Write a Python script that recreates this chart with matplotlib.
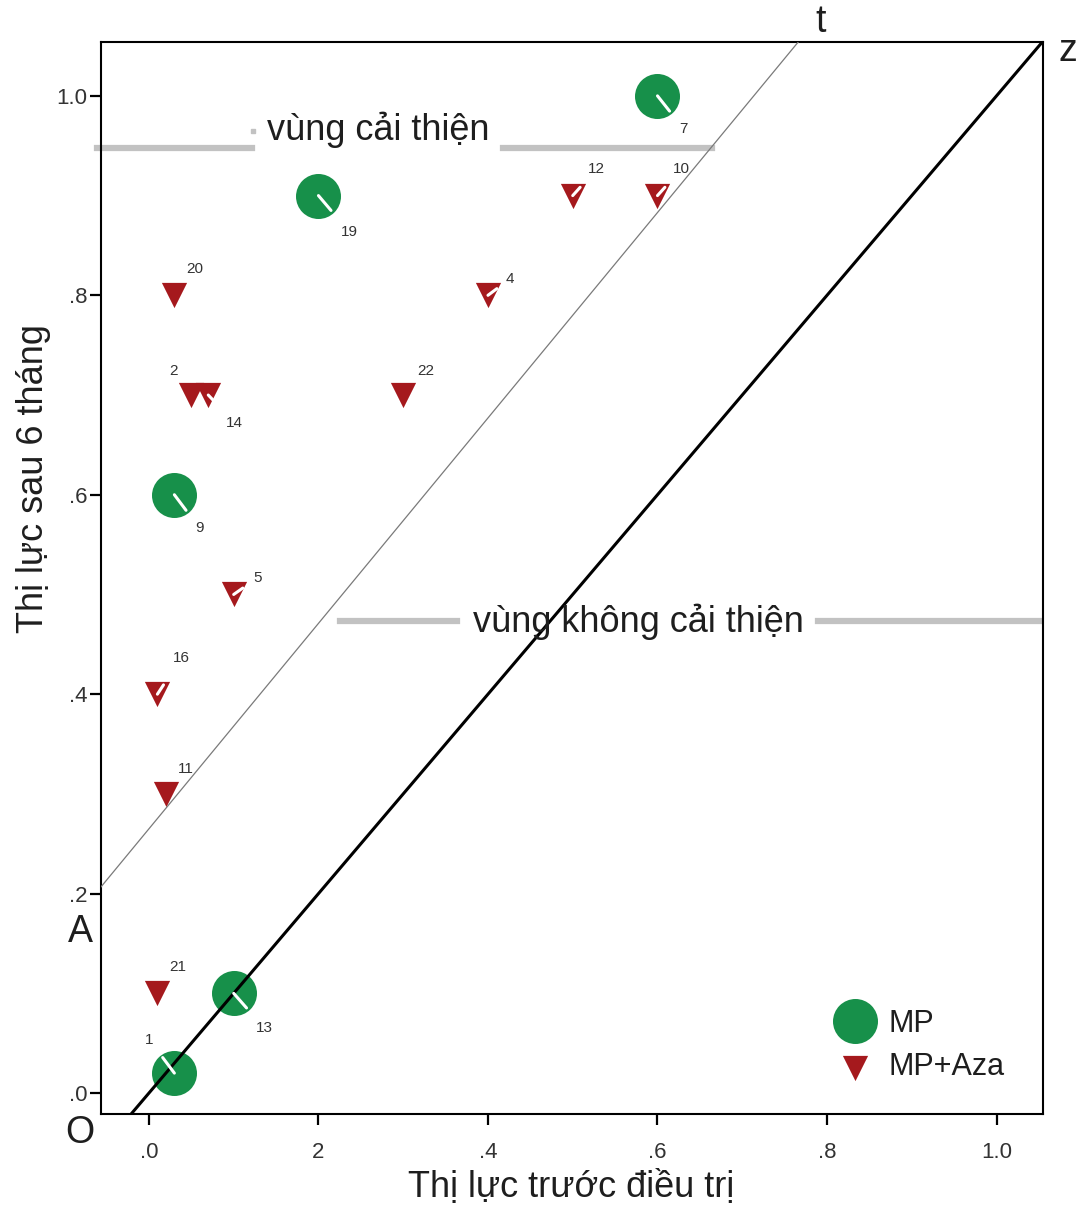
import numpy as np
import matplotlib.pyplot as plt

plt.rcParams['font.family'] = ['Liberation Sans', 'DejaVu Sans']

# MP group (green circles)
mp_x = [0.60, 0.20, 0.03, 0.10, 0.03]
mp_y = [1.00, 0.90, 0.60, 0.10, 0.02]
mp_id = ['7', '19', '9', '13', '1']
mp_off = [(19, -24), (22, -26), (18, -24), (22, -25), (-18, 24)]

# MP+Aza group (red triangles)
aza_x = [0.50, 0.60, 0.03, 0.40, 0.05, 0.07, 0.30, 0.10, 0.01, 0.02, 0.01]
aza_y = [0.90, 0.90, 0.80, 0.80, 0.70, 0.70, 0.70, 0.50, 0.40, 0.30, 0.10]
aza_id = ['12', '10', '20', '4', '2', '14', '22', '5', '16', '11', '21']
aza_off = [(17, 19), (17, 19), (15, 19), (16, 12), (-13, 17), (19, -20),
           (16, 17), (17, 12), (17, 26), (14, 18), (15, 19)]
aza_spike = [True, True, False, True, False, True, False, True, True, False, False]

x_ticks = [0.0, 0.2, 0.4, 0.6, 0.8, 1.0]
x_ticklabels = ['.0', '2', '.4', '.6', '.8', '1.0']
y_ticks = [0.0, 0.2, 0.4, 0.6, 0.8, 1.0]
y_ticklabels = ['.0', '.2', '.4', '.6', '.8', '1.0']

# reference lines: z is y = x, t is the improvement threshold
t_icpt, t_slope = 0.265, 1.03

GREEN = '#17904a'
RED = '#a5191d'
GRAY = '#c2c2c2'
TXT = '#1e1e1e'

fig = plt.figure(figsize=(10.81, 12.11), dpi=100)
ax = fig.add_axes([0.0934, 0.0801, 0.8715, 0.8852])
xmin, xmax = -0.0566, 1.0549
ymin, ymax = -0.021, 1.054
ax.set_xlim(xmin, xmax)
ax.set_ylim(ymin, ymax)

ax.scatter(mp_x, mp_y, s=1050, marker='o', color=GREEN, linewidths=0, zorder=2)
ax.scatter(aza_x, aza_y, s=330, marker='v', color=RED, linewidths=0, zorder=2)

xs = np.array([xmin, xmax])
ax.plot(xs, xs, color='black', lw=2.2, zorder=3)
ax.plot(xs, t_icpt + t_slope * xs, color='#7a7a7a', lw=0.9, zorder=3)

# white spikes from each marker toward its case label, then the label
def spike(x, y, off, length):
    d = np.array(off, dtype=float)
    d = d / np.hypot(*d) * length
    ax.annotate('', xy=(x, y), xytext=(d[0], d[1]), textcoords='offset points',
                arrowprops=dict(arrowstyle='-', color='white', lw=2.2,
                                shrinkA=0, shrinkB=0), zorder=4)

for x, y, lab, off in zip(mp_x, mp_y, mp_id, mp_off):
    spike(x, y, off, 14)
    ax.annotate(lab, xy=(x, y), xytext=off, textcoords='offset points',
                ha='center', va='center', fontsize=11, color='#333333', zorder=5)

for x, y, lab, off, sp in zip(aza_x, aza_y, aza_id, aza_off, aza_spike):
    if sp:
        spike(x, y, off, 8)
    ax.annotate(lab, xy=(x, y), xytext=off, textcoords='offset points',
                ha='center', va='center', fontsize=11, color='#333333', zorder=5)

# region captions with gray rules
ax.plot([-0.0613, 0.1215], [0.948, 0.948], color=GRAY, lw=4.5, clip_on=False, zorder=1)
ax.plot([0.4177, 0.6643], [0.948, 0.948], color=GRAY, lw=4.5, clip_on=False, zorder=1)
ax.plot([0.123], [0.965], marker='s', ms=3, color=GRAY, zorder=1)
ax.text(0.2708, 0.966, 'vùng cải thiện', ha='center', va='center', fontsize=26, color=TXT)

ax.plot([0.2254, 0.3634], [0.4734, 0.4734], color=GRAY, lw=4.5, zorder=1)
ax.plot([0.7894, xmax], [0.4734, 0.4734], color=GRAY, lw=4.5, zorder=1)
ax.text(0.578, 0.473, 'vùng không cải thiện', ha='center', va='center', fontsize=26, color=TXT)

ax.set_xticks(x_ticks)
ax.set_xticklabels(x_ticklabels)
ax.set_yticks(y_ticks)
ax.set_yticklabels(y_ticklabels)
ax.tick_params(axis='both', direction='out', length=8, width=1.6, labelsize=16,
               labelcolor='#333333')
ax.tick_params(axis='x', pad=12)
ax.tick_params(axis='y', pad=2)
for sp in ax.spines.values():
    sp.set_linewidth(1.5)

# legend
ax.scatter([0.800], [0.0868], s=1050, marker='o', color=GREEN, linewidths=0,
           transform=ax.transAxes, clip_on=False, zorder=5)
ax.scatter([0.800], [0.0429], s=330, marker='v', color=RED, linewidths=0,
           transform=ax.transAxes, clip_on=False, zorder=5)
ax.text(0.8355, 0.0840, 'MP', transform=ax.transAxes, ha='left', va='center',
        fontsize=22, color=TXT)
ax.text(0.8355, 0.0440, 'MP+Aza', transform=ax.transAxes, ha='left', va='center',
        fontsize=22, color=TXT)

# axis titles and point names
fig.text(0.528, 0.019, 'Thị lực trước điều trị', ha='center', va='center',
         fontsize=26, color=TXT)
fig.text(0.031, 0.605, 'Thị lực sau 6 tháng', ha='center', va='center',
         rotation=90, fontsize=26, color=TXT)
fig.text(0.074, 0.230, 'A', ha='center', va='center', fontsize=27, color=TXT)
fig.text(0.074, 0.064, 'O', ha='center', va='center', fontsize=27, color=TXT)
fig.text(0.759, 0.982, 't', ha='center', va='center', fontsize=27, color=TXT)
fig.text(0.988, 0.958, 'z', ha='center', va='center', fontsize=27, color=TXT)

fig.savefig('out.png', dpi=100)
